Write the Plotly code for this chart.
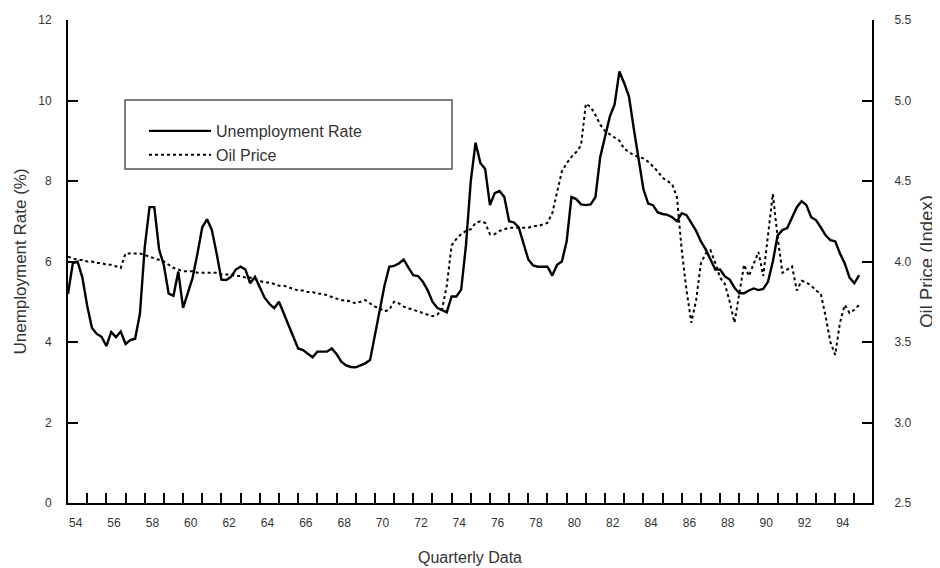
import plotly.graph_objects as go

start_year = 1954

unemployment = [
    5.2, 5.95, 6.0, 5.6,
    4.9, 4.35, 4.2, 4.13,
    3.9, 4.25, 4.12, 4.26,
    3.95, 4.05, 4.08, 4.7,
    6.35, 7.35, 7.35, 6.3,
    5.9, 5.2, 5.15, 5.75,
    4.85, 5.25, 5.6, 6.2,
    6.85, 7.05, 6.78, 6.2,
    5.55, 5.54, 5.62, 5.8,
    5.87, 5.8, 5.46, 5.62,
    5.35, 5.1, 4.95, 4.84,
    5.0, 4.7, 4.4, 4.1,
    3.84, 3.8, 3.7, 3.62,
    3.76, 3.76, 3.76, 3.84,
    3.7, 3.51, 3.42, 3.38,
    3.37, 3.42, 3.47, 3.55,
    4.2, 4.8, 5.4, 5.87,
    5.89, 5.95, 6.05, 5.85,
    5.66, 5.64, 5.5, 5.29,
    5.0, 4.85, 4.8, 4.74,
    5.13, 5.13, 5.3, 6.4,
    8.0, 8.95, 8.45, 8.3,
    7.4, 7.7, 7.75, 7.6,
    7.0, 6.97, 6.85, 6.45,
    6.05, 5.9, 5.87, 5.87,
    5.87, 5.65, 5.92, 6.0,
    6.5, 7.6, 7.55, 7.42,
    7.4, 7.42, 7.6, 8.6,
    9.1, 9.6, 9.9, 10.72,
    10.43, 10.1, 9.3, 8.5,
    7.8, 7.44, 7.4, 7.22,
    7.18, 7.16, 7.1, 7.0,
    7.2, 7.15, 6.95, 6.76,
    6.5, 6.3, 6.05, 5.8,
    5.8, 5.63, 5.55, 5.35,
    5.21, 5.21, 5.28, 5.33,
    5.29, 5.32, 5.5, 6.0,
    6.65, 6.78, 6.83, 7.1,
    7.35, 7.5, 7.4, 7.1,
    7.03, 6.85, 6.65, 6.53,
    6.5, 6.2, 5.95, 5.6,
    5.46, 5.66,
]

oil_price = [
    4.03, 4.02, 4.01, 4.01,
    4.00, 4.00, 3.99, 3.99,
    3.98, 3.98, 3.97, 3.96,
    4.05, 4.05, 4.05, 4.05,
    4.04, 4.03, 4.02, 4.01,
    4.00, 3.98, 3.96, 3.95,
    3.94, 3.94, 3.94, 3.93,
    3.93, 3.93, 3.93, 3.93,
    3.92, 3.92, 3.92, 3.91,
    3.91, 3.90, 3.90, 3.89,
    3.88, 3.87, 3.87, 3.86,
    3.85, 3.85, 3.84, 3.83,
    3.82, 3.82, 3.81, 3.81,
    3.80, 3.80, 3.79, 3.78,
    3.77, 3.76, 3.76, 3.75,
    3.74, 3.75, 3.76, 3.74,
    3.72, 3.71, 3.69, 3.70,
    3.75, 3.74, 3.72, 3.71,
    3.70, 3.69, 3.68, 3.67,
    3.66, 3.67, 3.70, 3.85,
    4.10, 4.14, 4.17, 4.19,
    4.20, 4.24, 4.25, 4.24,
    4.17, 4.17, 4.19, 4.20,
    4.21, 4.21, 4.21, 4.21,
    4.21, 4.22, 4.22, 4.23,
    4.24, 4.30, 4.44, 4.56,
    4.61, 4.65, 4.68, 4.72,
    4.98, 4.96, 4.91, 4.85,
    4.81, 4.79, 4.77, 4.75,
    4.70, 4.68, 4.66, 4.65,
    4.64, 4.62, 4.59, 4.56,
    4.52, 4.50, 4.48, 4.40,
    4.07, 3.82, 3.62, 3.76,
    3.99, 4.05, 4.07, 3.99,
    3.90, 3.86, 3.75, 3.62,
    3.80, 3.98, 3.91, 3.99,
    4.06, 3.91, 4.15, 4.42,
    4.15, 3.93, 3.95, 3.97,
    3.82, 3.88, 3.87, 3.85,
    3.82, 3.80, 3.66, 3.50,
    3.42, 3.62, 3.73, 3.68,
    3.70, 3.73,
]

year_labels = ["54", "56", "58", "60", "62", "64", "66", "68", "70", "72", "74",
               "76", "78", "80", "82", "84", "86", "88", "90", "92", "94"]
left_ticks = [0, 2, 4, 6, 8, 10, 12]
right_ticks = [2.5, 3.0, 3.5, 4.0, 4.5, 5.0, 5.5]

t = [start_year + i / 4 for i in range(len(unemployment))]
label_pos = [1900 + int(s) + 0.4 for s in year_labels]
year_ticks = list(range(start_year + 1, 1996))

FONT = "Liberation Sans, Arial, sans-serif"
TXT = "#333333"

fig = go.Figure()
fig.add_trace(go.Scatter(x=t, y=unemployment, mode="lines", name="Unemployment Rate",
                         line=dict(color="black", width=2.4), yaxis="y"))
fig.add_trace(go.Scatter(x=t, y=oil_price, mode="lines", name="Oil Price",
                         line=dict(color="black", width=2, dash="dot"), yaxis="y2"))

fig.update_layout(
    width=940, height=568,
    margin=dict(l=60, r=76, t=12, b=73),
    paper_bgcolor="white", plot_bgcolor="white",
    font=dict(family=FONT, size=12, color=TXT),
    showlegend=True,
    legend=dict(x=(144 - 68) / 804, y=(503 - 114) / 483, xanchor="left", yanchor="top",
                bgcolor="rgba(0,0,0,0)", borderwidth=0, itemwidth=62,
                font=dict(size=16, color=TXT), tracegroupgap=0),
    shapes=[dict(type="rect", xref="paper", yref="paper",
                 x0=(125 - 68) / 804, x1=(452 - 68) / 804,
                 y0=(503 - 169) / 483, y1=(503 - 100) / 483,
                 line=dict(color="#555555", width=1.5), fillcolor="rgba(0,0,0,0)")],
    xaxis=dict(range=[start_year, 1995.92], showgrid=False, zeroline=False,
               showline=True, linecolor="black", linewidth=2,
               tickmode="array", tickvals=label_pos, ticktext=year_labels,
               ticks="", ticklabelstandoff=8,
               minor=dict(tickmode="array", tickvals=year_ticks, ticks="inside",
                          ticklen=10, tickwidth=2, tickcolor="black", showgrid=False),
               title=dict(text="Quarterly Data", font=dict(size=16, color=TXT), standoff=22),
               automargin=False),
    yaxis=dict(range=[0, 12], showgrid=False, zeroline=False,
               showline=True, linecolor="black", linewidth=2,
               tickmode="array", tickvals=left_ticks,
               ticks="inside", ticklen=10, tickwidth=2, tickcolor="black",
               ticklabelstandoff=12,
               title=dict(text="Unemployment Rate (%)", font=dict(size=17, color=TXT), standoff=7),
               automargin=False),
    yaxis2=dict(range=[2.5, 5.5], overlaying="y", side="right", showgrid=False, zeroline=False,
                showline=True, linecolor="black", linewidth=2,
                tickmode="array", tickvals=right_ticks, tickformat=".1f",
                ticks="inside", ticklen=10, tickwidth=2, tickcolor="black",
                ticklabelstandoff=18,
                title=dict(text="Oil Price (Index)", font=dict(size=18.5, color=TXT), standoff=10),
                automargin=False),
)

fig.write_html("out.html")
